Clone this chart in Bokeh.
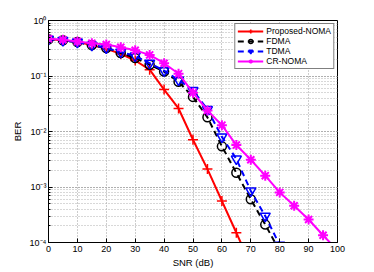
from bokeh.plotting import figure
from bokeh.models import (Range1d, LogTicker, SingleIntervalTicker, CustomJSTickFormatter,
                          Legend)
from bokeh.embed import file_html
from bokeh.resources import INLINE

snr_prop = [0, 5, 10, 15, 20, 25, 30, 35, 40, 45, 50, 55, 60, 65, 70]
ber_prop = [0.46, 0.44, 0.41, 0.36, 0.31, 0.25, 0.19, 0.13, 0.057, 0.026, 0.0071, 0.0021, 5.6e-4, 1.5e-4, 3.9e-5]

snr_fdma = [0, 5, 10, 15, 20, 25, 30, 35, 40, 45, 50, 55, 60, 65, 70, 75, 80]
ber_fdma = [0.46, 0.44, 0.41, 0.36, 0.32, 0.26, 0.21, 0.16, 0.12, 0.079, 0.042, 0.018, 0.0054, 0.0018, 6.0e-4, 2.1e-4, 7.0e-5]

snr_tdma = [0, 5, 10, 15, 20, 25, 30, 35, 40, 45, 50, 55, 60, 65, 70, 75, 80]
ber_tdma = [0.46, 0.44, 0.41, 0.36, 0.32, 0.27, 0.23, 0.17, 0.125, 0.085, 0.055, 0.025, 0.008, 0.0032, 8.5e-4, 3.0e-4, 9.0e-5]

snr_cr = [0, 5, 10, 15, 20, 25, 30, 35, 40, 45, 50, 55, 60, 65, 70, 75, 80, 85, 90, 95, 100]
ber_cr = [0.47, 0.45, 0.42, 0.39, 0.37, 0.33, 0.29, 0.24, 0.17, 0.11, 0.05, 0.024, 0.013, 0.0057, 0.0031, 0.0016, 8.0e-4, 4.6e-4, 2.6e-4, 1.35e-4, 7.2e-5]

x_label = "SNR (dB)"
y_label = "BER"
names = ["Proposed-NOMA", "FDMA", "TDMA", "CR-NOMA"]

FONT = "Liberation Sans"

p = figure(width=366, height=270, y_axis_type="log", output_backend="svg",
           toolbar_location=None, x_range=Range1d(0, 100), y_range=Range1d(1e-4, 1),
           min_border_left=48, min_border_right=29, min_border_top=20, min_border_bottom=28)
p.outline_line_color = "black"
p.outline_line_width = 1
p.background_fill_color = "white"

# axes
p.xaxis.ticker = SingleIntervalTicker(interval=10, num_minor_ticks=0)
p.yaxis.ticker = LogTicker(desired_num_ticks=5, num_minor_ticks=10)
p.yaxis.formatter = CustomJSTickFormatter(code="""
const sup = {'-':'\u207b','0':'\u2070','1':'\u00b9','2':'\u00b2','3':'\u00b3','4':'\u2074','5':'\u2075','6':'\u2076','7':'\u2077','8':'\u2078','9':'\u2079'};
const e = Math.round(Math.log10(tick));
return '10' + String(e).split('').map(c => sup[c]).join('');
""")
for ax in (p.xaxis[0], p.yaxis[0]):
    ax.major_tick_in = 4
    ax.major_tick_out = 0
    ax.minor_tick_in = 2
    ax.minor_tick_out = 0
    ax.axis_line_color = "black"
    ax.major_label_text_font = FONT
    ax.major_label_text_font_size = "9px"
    ax.major_label_text_color = "black"
    ax.axis_label_text_font = FONT
    ax.axis_label_text_font_size = "9.5px"
    ax.axis_label_text_font_style = "normal"
    ax.axis_label_text_color = "black"
p.xaxis.axis_label = x_label
p.yaxis.axis_label = y_label
p.xaxis.major_label_standoff = 3
p.xaxis.axis_label_standoff = 2
p.yaxis.major_label_standoff = 2
p.yaxis.axis_label_standoff = 4

# grid
p.xgrid.grid_line_color = "#9a9a9a"
p.xgrid.grid_line_dash = "1 2"
p.xgrid.grid_line_width = 1
p.ygrid.grid_line_color = "#9a9a9a"
p.ygrid.grid_line_dash = "1 2"
p.ygrid.minor_grid_line_color = "#b0b0b0"
p.ygrid.minor_grid_line_dash = "1 2"

LW = 2
r1 = p.line(snr_prop, ber_prop, line_color="red", line_width=LW)
s1 = p.scatter(snr_prop, ber_prop, marker="cross", size=10, line_color="red", line_width=1.5)

r2 = p.line(snr_fdma, ber_fdma, line_color="black", line_width=LW, line_dash="6 4")
s2 = p.scatter(snr_fdma, ber_fdma, marker="circle", size=9, line_color="black",
               fill_color=None, line_width=1.5)

r3 = p.line(snr_tdma, ber_tdma, line_color="blue", line_width=LW, line_dash="6 4")
s3 = p.scatter(snr_tdma, ber_tdma, marker="inverted_triangle", size=10, line_color="blue",
               fill_color=None, line_width=1.5)

r4 = p.line(snr_cr, ber_cr, line_color="magenta", line_width=LW)
s4 = p.scatter(snr_cr, ber_cr, marker="asterisk", size=10, line_color="magenta", line_width=2)

legend = Legend(items=[(names[0], [r1, s1]), (names[1], [r2, s2]),
                       (names[2], [r3, s3]), (names[3], [r4, s4])],
                location="top_right")
legend.label_text_font = FONT
legend.label_text_font_size = "8.5px"
legend.label_text_color = "black"
legend.label_height = 10
legend.glyph_height = 10
legend.glyph_width = 26
legend.label_standoff = 3
legend.spacing = 0
legend.padding = 2
legend.margin = 3
legend.border_line_color = "black"
legend.border_line_width = 1
legend.background_fill_color = "white"
legend.background_fill_alpha = 1
p.add_layout(legend)

open("out.html", "w").write(file_html(p, INLINE))
